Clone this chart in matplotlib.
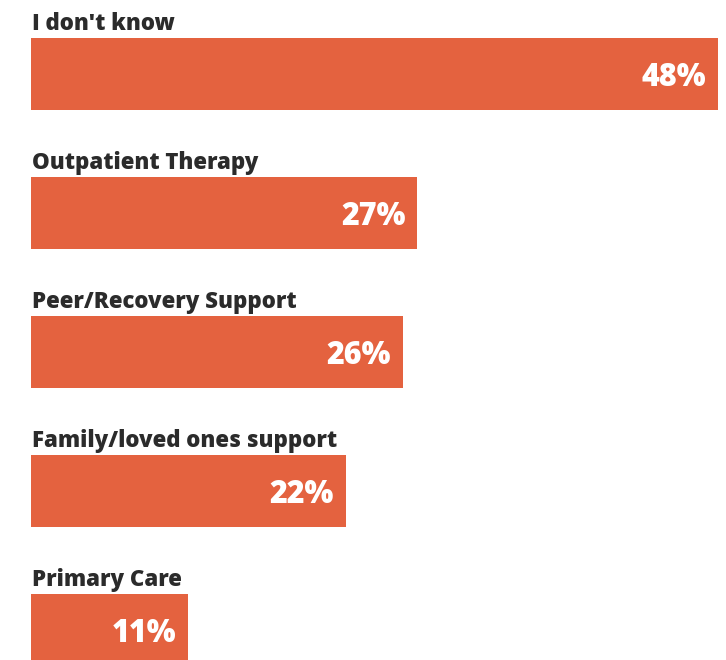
import matplotlib
matplotlib.use("Agg")
import matplotlib.pyplot as plt
from matplotlib.transforms import offset_copy

categories = ["I don't know", "Outpatient Therapy", "Peer/Recovery Support",
              "Family/loved ones support", "Primary Care"]
values = [48, 27, 26, 22, 11]
value_labels = ["48%", "27%", "26%", "22%", "11%"]

bar_color = "#E4623F"
text_color = "#2b2b2b"

fig = plt.figure(figsize=(7.26, 6.6), dpi=100)
ax = fig.add_axes([31/726, 0, (718-31)/726, 1])
ax.set_xlim(0, 48)
ax.set_ylim((660-74)/139, -74/139)
ax.axis("off")

ypos = list(range(len(categories)))
h = 72/139
ax.barh(ypos, values, height=h, color=bar_color, edgecolor="none")

for y, v, cat, lab in zip(ypos, values, categories, value_labels):
    t1 = offset_copy(ax.transData, fig=fig, x=1, y=5.8, units="points")
    ax.text(0, y - h/2, cat, transform=t1, ha="left", va="baseline",
            fontsize=16, fontweight="heavy", family="Open Sans", color=text_color)
    t2 = offset_copy(ax.transData, fig=fig, x=-8.6, y=0, units="points")
    ax.text(v, y, lab, transform=t2, ha="right", va="center_baseline",
            fontsize=22, fontweight="heavy", family="Open Sans", color="white")

fig.savefig("out.png", dpi=100)
